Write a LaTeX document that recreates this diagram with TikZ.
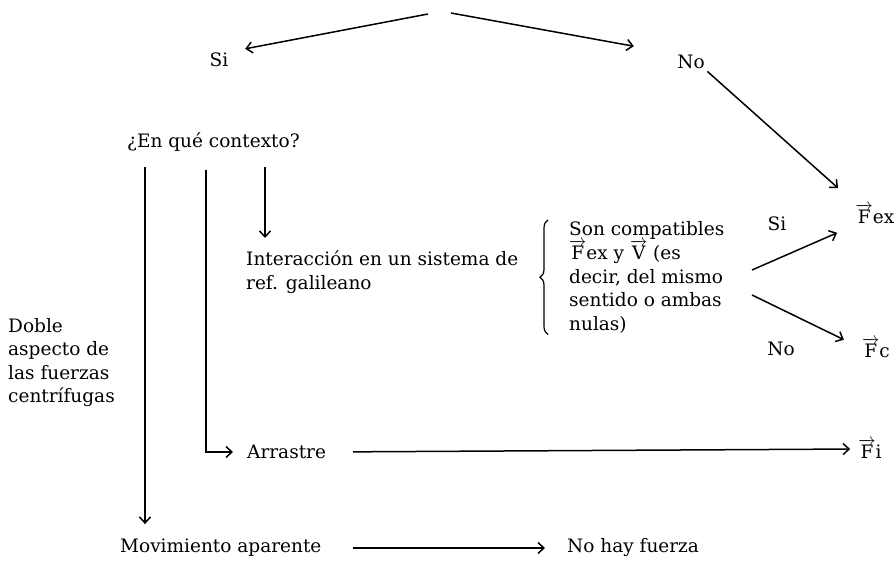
\documentclass[tikz,border=0pt]{standalone}
\usepackage{fontspec}
\setmainfont{DejaVu Serif}
\usepackage{amsmath}
\usetikzlibrary{arrows.meta}
\usetikzlibrary{decorations.pathreplacing}

\newcommand{\vF}{$\overrightarrow{\text{F}}$}
\newcommand{\vV}{$\overrightarrow{\text{V}}$}

\begin{document}
\begin{tikzpicture}[x=1pt,y=-1pt]
			\tikzset{lbl/.style = {inner sep=1pt, font=\fontsize{18.5}{23.5}\selectfont}}
			\tikzset{lblpar/.style = {lbl, align=left, anchor=north west}}
			\tikzset{edge/.style = {-{Straight Barb[length=6pt,width=11pt]}, line width=1.5pt}}
			\tikzset{brc/.style = {decorate, decoration={brace, amplitude=8pt}, line width=1.2pt}}
			
			\useasboundingbox (0,0) rectangle (895,561);
			
			% labels
			\node[lbl] (si) at (219,60) {Si};
			\node[lbl] (no) at (691,62) {No};
			\node[lbl, anchor=west] (ctx) at (126,142) {¿En qué contexto?};
			\node[lblpar] (int) at (245,250) {Interacción en un sistema de\\ref. galileano};
			\node[lblpar] (son) at (568,220) {Son compatibles\\\vF ex y \vV{} (es\\decir, del mismo\\sentido o ambas\\nulas)};
			\node[lbl] (si2) at (777,224) {Si};
			\node[lbl] (no2) at (781,349) {No};
			\node[lbl] (fex) at (875,214) {\vF ex};
			\node[lbl] (fc) at (876,348) {\vF c};
			\node[lbl] (fi) at (870,449) {\vF i};
			\node[lblpar] (doble) at (7,317) {Doble\\aspecto de\\las fuerzas\\centrífugas};
			\node[lbl, anchor=west] (arr) at (246,452) {Arrastre};
			\node[lbl, anchor=west] (mov) at (119,548) {Movimiento aparente};
			\node[lbl, anchor=west] (nohay) at (566,548) {No hay fuerza};
			
			% free ends
			\coordinate (tl) at (428,14);
			\coordinate (tr) at (451,13);
			\coordinate (c1) at (145,167);
			\coordinate (c2) at (206,170);
			\coordinate (c3) at (265,167);
			\coordinate (fa) at (752,270);
			\coordinate (fb) at (752,295);
			
			% edges
			\draw[edge, shorten >=16pt] (tl) -- (si.north east);
			\draw[edge, shorten >=43pt] (tr) -- (no.north west);
			\draw[edge, shorten <=2pt, shorten >=22pt] (no.south east) -- (fex.north west);
			\draw[edge] (c1) -- ([yshift=14pt]c1 |- mov.north);
			\draw[edge, shorten >=13pt] (c2) |- (arr.west);
			\draw[edge] (c3) -- ([yshift=12pt]c3 |- int.north);
			\draw[edge, shorten >=19pt] (fa) -- (fex.south west);
			\draw[edge, shorten >=19pt] (fb) -- (fc.west);
			\draw[edge, shorten <=26pt, shorten >=7pt] (arr.east) -- (fi.west);
			\draw[edge, shorten <=30pt, shorten >=21pt] (mov.east) -- (nohay.west);
			\draw[brc] ([xshift=-20pt]son.south west) -- ([xshift=-20pt]son.north west);
			
\end{tikzpicture}
\end{document}
